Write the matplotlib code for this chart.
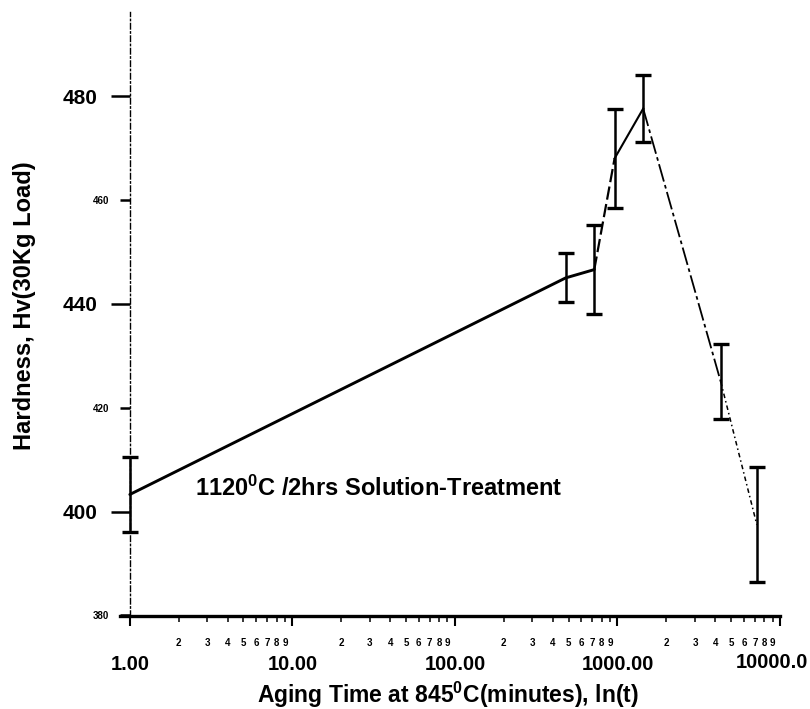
import matplotlib
matplotlib.use("Agg")
import matplotlib.pyplot as plt
import numpy as np
from matplotlib.ticker import FixedLocator, FixedFormatter

plt.rcParams['font.family'] = ['Liberation Sans', 'DejaVu Sans']
plt.rcParams['font.weight'] = 'bold'
plt.rcParams['mathtext.fontset'] = 'custom'
plt.rcParams['mathtext.rm'] = 'Liberation Sans:bold'
plt.rcParams['mathtext.it'] = 'Liberation Sans:bold'
plt.rcParams['mathtext.bf'] = 'Liberation Sans:bold'

# Data (aging time in minutes, hardness Hv)
time_min = [1, 480, 720, 960, 1440, 4320, 7200]
hardness = [403.3, 445.0, 446.6, 468.0, 477.6, 425.0, 397.5]
err = [7.3, 4.7, 8.5, 9.6, 6.5, 7.2, 11.0]

y_major = [400, 440, 480]
y_major_labels = ['400', '440', '480']
y_minor = [380, 420, 460]
y_minor_labels = ['380', '420', '460']
x_major = [1, 10, 100, 1000, 10000]
x_major_labels = ['1.00', '10.00', '100.00', '1000.00', '']
last_x_label = '10000.0'
x_minor_digits = [2, 3, 4, 5, 6, 7, 8, 9]
decades = [1, 10, 100, 1000]

fig = plt.figure(figsize=(8.1, 7.09), dpi=100)
W, H = 810, 709
left_px, right_px = 120, 780
bottom_px, top_px = 616, 12
ax = fig.add_axes([left_px / W, 1 - bottom_px / H, (right_px - left_px) / W, (bottom_px - top_px) / H])

ax.set_xscale('log')
ax.set_xlim(0.87, 10000)
ax.set_ylim(379.9, 496.2)

# line segments with varying styles
ax.plot(time_min[0:3], hardness[0:3], color='black', lw=2.1, solid_capstyle='round')
ax.plot(time_min[2:4], hardness[2:4], color='black', lw=1.6, linestyle=(0, (6, 2)))
ax.plot(time_min[3:5], hardness[3:5], color='black', lw=1.5)
ax.plot(time_min[4:6], hardness[4:6], color='black', lw=1.3, linestyle=(0, (10, 2, 2, 2)))
ax.plot(time_min[5:7], hardness[5:7], color='black', lw=1.1, linestyle=(0, (3, 2, 1, 2)))

ax.errorbar(time_min, hardness, yerr=err, fmt='none', ecolor='black',
            elinewidth=1.8, capsize=5.5, capthick=2.4)

ax.text(2.51, 404.4, '1120$^{0}$C /2hrs Solution-Treatment', fontsize=17,
        fontweight='bold', ha='left', va='center')

# spines
ax.spines['top'].set_visible(False)
ax.spines['right'].set_visible(False)
ax.spines['left'].set_position(('data', 1))
ax.spines['left'].set_linestyle((0, (4, 2, 1, 2)))
ax.spines['left'].set_linewidth(1.0)
ax.spines['bottom'].set_linewidth(2.4)

# y ticks
ax.yaxis.set_major_locator(FixedLocator(y_major))
ax.yaxis.set_major_formatter(FixedFormatter(y_major_labels))
ax.yaxis.set_minor_locator(FixedLocator(y_minor))
ax.yaxis.set_minor_formatter(FixedFormatter(y_minor_labels))
ax.tick_params(axis='y', which='major', direction='out', length=14, width=1.8, pad=9, labelsize=15)
ax.tick_params(axis='y', which='minor', direction='out', length=7, width=1.8, pad=8, labelsize=7)

# x ticks
minor_pos = [d * m for d in decades for m in x_minor_digits]
minor_lab = [str(m) for d in decades for m in x_minor_digits]
ax.xaxis.set_major_locator(FixedLocator(x_major))
ax.xaxis.set_major_formatter(FixedFormatter(x_major_labels))
ax.xaxis.set_minor_locator(FixedLocator(minor_pos))
ax.xaxis.set_minor_formatter(FixedFormatter(minor_lab))
ax.tick_params(axis='x', which='major', direction='out', length=7, width=1.5, pad=21, labelsize=14.5)
ax.tick_params(axis='x', which='minor', direction='out', length=4, width=1.1, pad=12, labelsize=7)
for lab in (ax.get_xticklabels() + ax.get_xticklabels(minor=True)
            + ax.get_yticklabels() + ax.get_yticklabels(minor=True)):
    lab.set_fontweight('bold')

# last major label kept inside the figure edge
fig.text(808 / W, 1 - 662 / H, last_x_label, fontsize=14.5, fontweight='bold',
         ha='right', va='center')

fig.text(448 / W, 1 - 695 / H, 'Aging Time at 845$^{0}$C(minutes), ln(t)', fontsize=16.5,
         fontweight='bold', ha='center', va='center')
fig.text(25 / W, 1 - 306 / H, 'Hardness, Hv(30Kg Load)', fontsize=17,
         fontweight='bold', ha='center', va='center', rotation=90)

fig.savefig('out.png', dpi=100)
